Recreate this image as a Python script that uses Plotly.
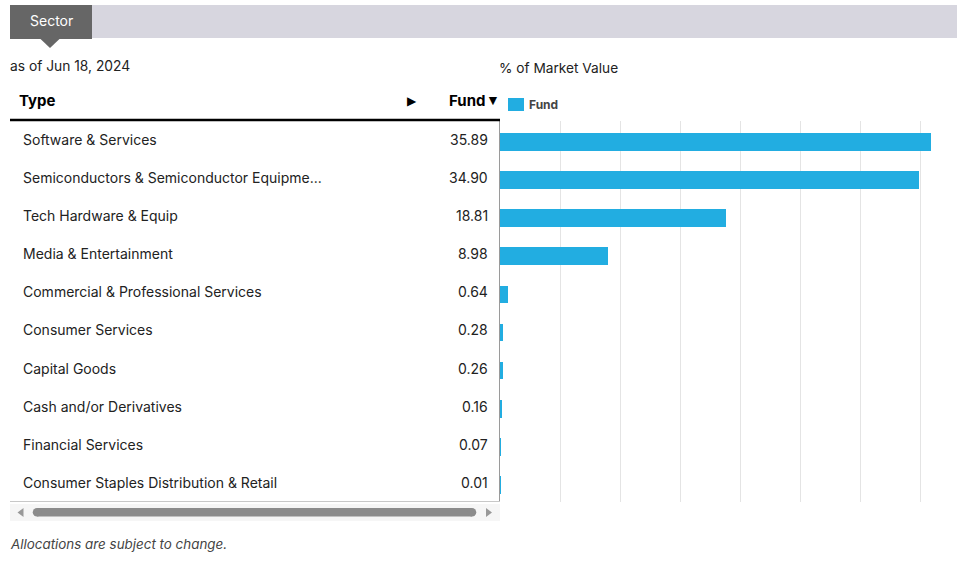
import plotly.graph_objects as go

categories = [
    "Software & Services",
    "Semiconductors & Semiconductor Equipme...",
    "Tech Hardware & Equip",
    "Media & Entertainment",
    "Commercial & Professional Services",
    "Consumer Services",
    "Capital Goods",
    "Cash and/or Derivatives",
    "Financial Services",
    "Consumer Staples Distribution & Retail",
]
fund_values = [35.89, 34.90, 18.81, 8.98, 0.64, 0.28, 0.26, 0.16, 0.07, 0.01]
value_labels = ["35.89", "34.90", "18.81", "8.98", "0.64", "0.28", "0.26", "0.16", "0.07", "0.01"]

W, H = 957, 567
def px(x):
    return x / W
def py(y):
    return 1 - y / H

FONT = "Inter"
BLUE = "#22ade1"

fig = go.Figure()
fig.add_trace(go.Bar(
    x=fund_values, y=categories, orientation="h",
    marker=dict(color=BLUE, line=dict(width=0)),
    width=0.465, name="Fund", showlegend=False, hoverinfo="x+y",
))

shapes = []
annotations = []

# header bar and tab
shapes.append(dict(type="rect", xref="paper", yref="paper", x0=px(10), x1=px(957), y0=py(38), y1=py(5),
                   fillcolor="#d7d6df", line=dict(width=0), layer="below"))
shapes.append(dict(type="rect", xref="paper", yref="paper", x0=px(10), x1=px(92), y0=py(39), y1=py(5),
                   fillcolor="#666666", line=dict(width=0)))
shapes.append(dict(type="path", xref="paper", yref="paper",
                   path=f"M {px(40)},{py(38.5)} L {px(60)},{py(38.5)} L {px(50)},{py(48)} Z",
                   fillcolor="#666666", line=dict(width=0)))
annotations.append(dict(text="Sector", xref="paper", yref="paper", x=px(51), y=py(21), showarrow=False,
                        font=dict(family=FONT, size=14, color="#ffffff"), xanchor="center", yanchor="middle"))

annotations.append(dict(text="as of Jun 18, 2024", xref="paper", yref="paper", x=px(8), y=py(66), showarrow=False,
                        font=dict(family=FONT, size=13.8, color="#222222"), xanchor="left", yanchor="middle"))
annotations.append(dict(text="<b>Type</b>", xref="paper", yref="paper", x=px(17), y=py(100), showarrow=False,
                        font=dict(family=FONT, size=15, color="#000000"), xanchor="left", yanchor="middle"))
annotations.append(dict(text="▶", xref="paper", yref="paper", x=px(412), y=py(101), showarrow=False,
                        font=dict(family="Liberation Sans", size=12, color="#000000"), xanchor="center", yanchor="middle"))
annotations.append(dict(text="<b>Fund</b>", xref="paper", yref="paper", x=px(487), y=py(100), showarrow=False,
                        font=dict(family=FONT, size=15, color="#000000"), xanchor="right", yanchor="middle"))
annotations.append(dict(text="▼", xref="paper", yref="paper", x=px(493), y=py(100), showarrow=False,
                        font=dict(family="Liberation Sans", size=14, color="#000000"), xanchor="center", yanchor="middle"))
annotations.append(dict(text="% of Market Value", xref="paper", yref="paper", x=px(497), y=py(68), showarrow=False,
                        font=dict(family=FONT, size=13.7, color="#222222"), xanchor="left", yanchor="middle"))

# legend
shapes.append(dict(type="rect", xref="paper", yref="paper", x0=px(508), x1=px(524), y0=py(111), y1=py(98),
                   fillcolor=BLUE, line=dict(width=0)))
annotations.append(dict(text="<b>Fund</b>", xref="paper", yref="paper", x=px(527), y=py(105), showarrow=False,
                        font=dict(family=FONT, size=12, color="#444444"), xanchor="left", yanchor="middle"))

# header underline and table bottom
shapes.append(dict(type="line", xref="paper", yref="paper", x0=px(10), x1=px(500), y0=py(120), y1=py(120),
                   line=dict(color="#000000", width=2.5)))
shapes.append(dict(type="line", xref="paper", yref="paper", x0=px(10), x1=px(500), y0=py(501.5), y1=py(501.5),
                   line=dict(color="#c8c8c8", width=1)))

# scrollbar
shapes.append(dict(type="rect", xref="paper", yref="paper", x0=px(10), x1=px(500), y0=py(521), y1=py(504),
                   fillcolor="#f6f6f6", line=dict(width=0)))
shapes.append(dict(type="rect", xref="paper", yref="paper", x0=px(37), x1=px(472), y0=py(516.5), y1=py(508),
                   fillcolor="#8c8c8c", line=dict(width=0)))
for cx in (37, 472):
    shapes.append(dict(type="circle", xref="paper", yref="paper", x0=px(cx - 4.25), x1=px(cx + 4.25),
                       y0=py(516.5), y1=py(508), fillcolor="#8c8c8c", line=dict(width=0)))
shapes.append(dict(type="path", xref="paper", yref="paper",
                   path=f"M {px(23.5)},{py(508)} L {px(23.5)},{py(517)} L {px(17.5)},{py(512.5)} Z",
                   fillcolor="#999999", line=dict(width=0)))
shapes.append(dict(type="path", xref="paper", yref="paper",
                   path=f"M {px(486)},{py(508)} L {px(486)},{py(517)} L {px(492)},{py(512.5)} Z",
                   fillcolor="#999999", line=dict(width=0)))

# row labels and values, positioned on the y scale
for cat, lab in zip(categories, value_labels):
    annotations.append(dict(text=cat, xref="paper", yref="y", x=px(21), y=cat, yshift=2.5, showarrow=False,
                            font=dict(family=FONT, size=14, color="#222222"), xanchor="left", yanchor="middle"))
    annotations.append(dict(text=lab, xref="paper", yref="y", x=px(489.5), y=cat, yshift=2.5, showarrow=False,
                            font=dict(family=FONT, size=14, color="#222222"), xanchor="right", yanchor="middle"))

annotations.append(dict(text="<i>Allocations are subject to change.</i>", xref="paper", yref="paper",
                        x=px(8), y=py(544), showarrow=False,
                        font=dict(family=FONT, size=13.4, color="#444444"), xanchor="left", yanchor="middle"))

fig.update_layout(
    width=W, height=H,
    margin=dict(l=0, r=0, t=0, b=0),
    paper_bgcolor="#ffffff", plot_bgcolor="#ffffff",
    bargap=0,
    xaxis=dict(domain=[px(500), 1.0], range=[0, 38.05], tickvals=[5, 10, 15, 20, 25, 30, 35],
               showticklabels=False, showgrid=True, gridcolor="#e4e4e4", gridwidth=1,
               zeroline=False, showline=False, fixedrange=True),
    yaxis=dict(domain=[py(502), py(121)], categoryorder="array", categoryarray=categories,
               range=[9.45, -0.55], showticklabels=False, showgrid=False, zeroline=False,
               showline=True, linecolor="#9a9a9a", linewidth=1, ticks="", fixedrange=True),
    shapes=shapes,
    annotations=annotations,
    showlegend=False,
)

fig.write_html("out.html")
